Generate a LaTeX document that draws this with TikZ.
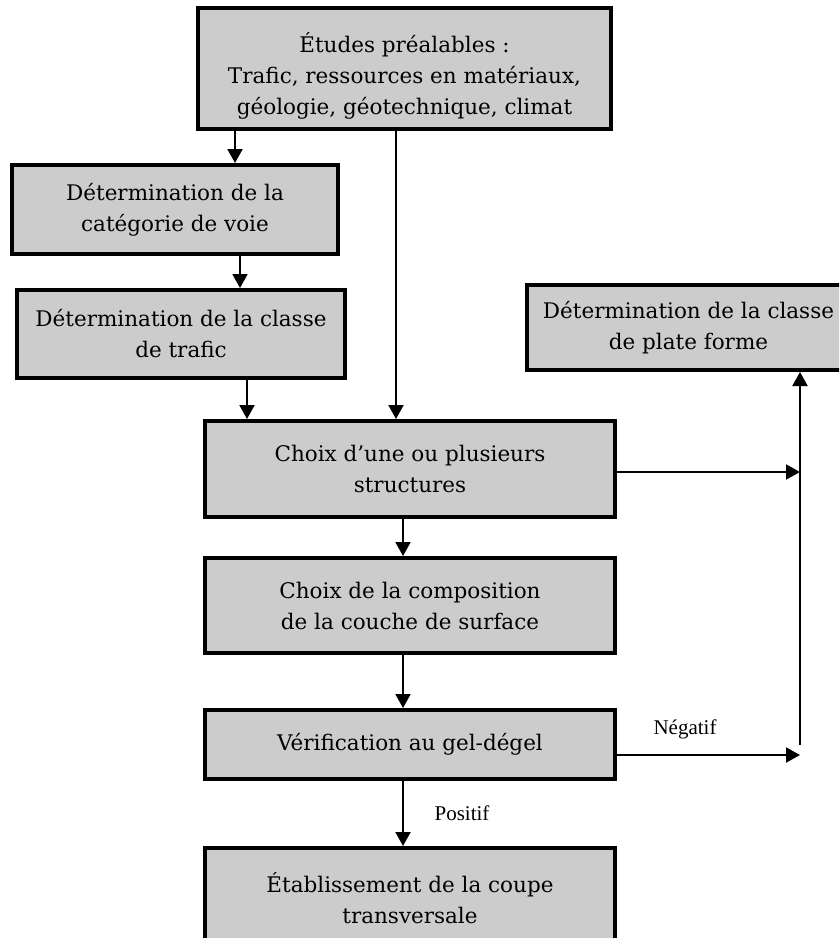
\documentclass[tikz,border=0pt]{standalone}
\usepackage{fontspec}
\setmainfont{DejaVu Serif}
\newfontfamily\labfont{Liberation Serif}
\usetikzlibrary{arrows.meta}
\definecolor{boxgray}{RGB}{204,204,204}
\tikzset{
  boxtxt/.style={inner sep=0pt, align=center, font=\fontsize{21.5}{31}\selectfont},
  stepbox/.style={boxtxt, draw=black, line width=4pt, fill=boxgray},
  arr/.style={line width=2pt, -{Triangle[length=14pt,width=15pt]}},
  lab/.style={font=\labfont\fontsize{21}{24}\selectfont, inner sep=0pt}
}
\begin{document}
\begin{tikzpicture}[x=1pt,y=-1pt]
\clip (0,0) rectangle (839,938);
\fill[white] (0,0) rectangle (839,938);
\node[stepbox, minimum width=413pt, minimum height=121pt] (top) at (404.5,68.5) {};
\node[boxtxt] (toptxt) at ([yshift=-7pt]top.center)
  {Études préalables :\\Trafic, ressources en matériaux,\\géologie, géotechnique, climat};
\node[stepbox, minimum width=326pt, minimum height=89pt] (cat) at (175,209.5)
  {Détermination de la\\catégorie de voie};
\node[stepbox, minimum width=328pt, minimum height=88pt] (traf) at (181,334)
  {Détermination de la classe\\de trafic};
\node[stepbox, minimum width=323pt, minimum height=85pt] (plat) at (688.5,327.5)
  {Détermination de la classe\\de plate forme};
\node[stepbox, minimum width=410pt, minimum height=96pt] (choix) at (410,469)
  {Choix d’une ou plusieurs\\structures};
\node[stepbox, minimum width=410pt, minimum height=95pt] (comp) at (410,605.5)
  {Choix de la composition\\de la couche de surface};
\node[stepbox, minimum width=410pt, minimum height=69pt] (verif) at (410,744.5)
  {Vérification au gel-dégel};
\node[stepbox, minimum width=410pt, minimum height=100pt] (etab) at (410,898)
  {Établissement de la coupe\\transversale};
\coordinate (xa) at (235,0);
\coordinate (xb) at (240,0);
\coordinate (xc) at (247,0);
\coordinate (xd) at (396,0);
\coordinate (xe) at (403,0);
\coordinate (xr) at (800,0);
\coordinate (j1) at (800,472);
\coordinate (j2) at (800,755);
\coordinate (jb) at (800,745);
\draw[arr] (top.south -| xa) -- (cat.north -| xa);
\draw[arr] (cat.south -| xb) -- (traf.north -| xb);
\draw[arr] (traf.south -| xc) -- (choix.north -| xc);
\draw[arr] (top.south -| xd) -- (choix.north -| xd);
\draw[arr] (choix.south -| xe) -- (comp.north -| xe);
\draw[arr] (comp.south -| xe) -- (verif.north -| xe);
\draw[arr] (verif.south -| xe) -- (etab.north -| xe);
\draw[arr] (choix.east |- j1) -- (j1);
\draw[arr] (verif.east |- j2) -- (j2);
\draw[arr] (jb) -- (plat.south -| xr);
\node[lab] (neg) at (685,729) {Négatif};
\node[lab] (pos) at (462,813) {Positif};
\end{tikzpicture}
\end{document}
